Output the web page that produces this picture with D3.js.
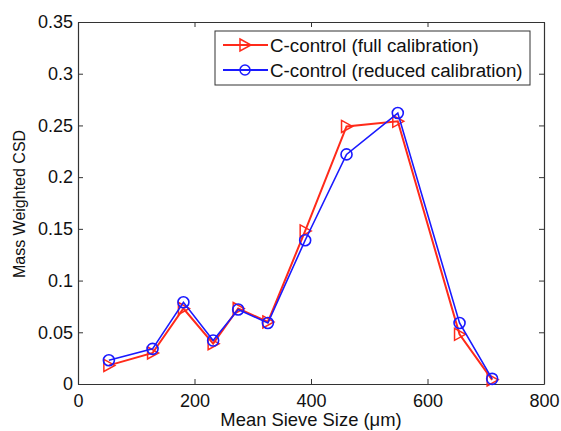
<!DOCTYPE html>
<html>
<head>
<meta charset="utf-8">
<script src="https://cdn.jsdelivr.net/npm/d3@7"></script>
<style>
  body { margin: 0; background: #fff; }
  svg { font-family: "Liberation Sans", Arial, sans-serif; }
</style>
</head>
<body>
<div id="vis"></div>
<script>
// Data
const SIEVE_SIZE = [53, 128, 181, 232, 275, 326, 390, 461, 549, 655, 711];
const FULL_CAL = [0.018, 0.030, 0.073, 0.039, 0.073, 0.060, 0.148, 0.249, 0.254, 0.048, 0.004];
const REDUCED_CAL = [0.023, 0.034, 0.079, 0.042, 0.072, 0.059, 0.139, 0.222, 0.262, 0.059, 0.005];
const X_TICKS = [0, 200, 400, 600, 800];
const Y_TICKS = [0, 0.05, 0.1, 0.15, 0.2, 0.25, 0.3, 0.35];
const Y_TICK_LABELS = ["0", "0.05", "0.1", "0.15", "0.2", "0.25", "0.3", "0.35"];
const SERIES_NAMES = ["C-control (full calibration)", "C-control (reduced calibration)"];

// Frame and margins
const FRAME_WIDTH = 561;
const FRAME_HEIGHT = 431;
const MARGINS = {left: 78, right: 17, top: 22, bottom: 47};
const VIS_WIDTH = FRAME_WIDTH - MARGINS.left - MARGINS.right;
const VIS_HEIGHT = FRAME_HEIGHT - MARGINS.top - MARGINS.bottom;

const FRAME = d3.select("#vis")
  .append("svg")
    .attr("width", FRAME_WIDTH)
    .attr("height", FRAME_HEIGHT);

const X_SCALE = d3.scaleLinear().domain([0, 800]).range([0, VIS_WIDTH]);
const Y_SCALE = d3.scaleLinear().domain([0, 0.35]).range([VIS_HEIGHT, 0]);

const G = FRAME.append("g")
  .attr("transform", "translate(" + MARGINS.left + "," + MARGINS.top + ")");

// Axes (ticks pointing inward, matlab style), plus mirrored top/right
function styleAxis(sel) {
  sel.selectAll("path").attr("stroke", "#333").attr("stroke-width", 1.2);
  sel.selectAll("line").attr("stroke", "#333");
  sel.selectAll("text").attr("fill", "#111").style("font-size", "18px");
}

G.append("g")
  .attr("transform", "translate(0," + VIS_HEIGHT + ")")
  .call(d3.axisBottom(X_SCALE).tickValues(X_TICKS).tickSize(-5).tickPadding(10).tickSizeOuter(0))
  .call(styleAxis);

G.append("g")
  .call(d3.axisLeft(Y_SCALE).tickValues(Y_TICKS)
    .tickFormat((d, i) => Y_TICK_LABELS[i]).tickSize(-5).tickPadding(5).tickSizeOuter(0))
  .call(styleAxis);

G.append("g")
  .call(d3.axisTop(X_SCALE).tickValues(X_TICKS).tickSize(-5).tickFormat("").tickSizeOuter(0))
  .call(styleAxis);

G.append("g")
  .attr("transform", "translate(" + VIS_WIDTH + ",0)")
  .call(d3.axisRight(Y_SCALE).tickValues(Y_TICKS).tickSize(-5).tickFormat("").tickSizeOuter(0))
  .call(styleAxis);

// Axis labels
FRAME.append("text")
  .attr("x", MARGINS.left + VIS_WIDTH / 2)
  .attr("y", 426)
  .attr("text-anchor", "middle")
  .style("font-size", "18.4px")
  .attr("fill", "#111")
  .text("Mean Sieve Size (\u03BCm)");

FRAME.append("text")
  .attr("transform", "translate(25,204) rotate(-90)")
  .attr("text-anchor", "middle")
  .style("font-size", "16px")
  .attr("fill", "#111")
  .text("Mass Weighted CSD");

// Lines
const line = d3.line()
  .x((d) => X_SCALE(d[0]))
  .y((d) => Y_SCALE(d[1]));

const redData = SIEVE_SIZE.map((x, i) => [x, FULL_CAL[i]]);
const blueData = SIEVE_SIZE.map((x, i) => [x, REDUCED_CAL[i]]);

G.append("path")
  .datum(redData)
  .attr("d", line)
  .attr("fill", "none")
  .attr("stroke", "#ff2a1a")
  .attr("stroke-width", 2);

const TRI = "M-5,-6L6,0L-5,6Z";

G.selectAll(".tri")
  .data(redData)
  .enter()
  .append("path")
    .attr("class", "tri")
    .attr("d", TRI)
    .attr("transform", (d) => "translate(" + X_SCALE(d[0]) + "," + Y_SCALE(d[1]) + ")")
    .attr("fill", "none")
    .attr("stroke", "#ff2a1a")
    .attr("stroke-width", 1.5);

G.append("path")
  .datum(blueData)
  .attr("d", line)
  .attr("fill", "none")
  .attr("stroke", "#1a1aff")
  .attr("stroke-width", 1.6);

G.selectAll(".circ")
  .data(blueData)
  .enter()
  .append("circle")
    .attr("class", "circ")
    .attr("cx", (d) => X_SCALE(d[0]))
    .attr("cy", (d) => Y_SCALE(d[1]))
    .attr("r", 5.5)
    .attr("fill", "none")
    .attr("stroke", "#1a1aff")
    .attr("stroke-width", 1.6);

// Legend
const LEG = FRAME.append("g").attr("transform", "translate(215,31)");
LEG.append("rect")
  .attr("width", 315)
  .attr("height", 54)
  .attr("fill", "#fff")
  .attr("stroke", "#333")
  .attr("stroke-width", 1);

const legColors = ["#ff2a1a", "#1a1aff"];
SERIES_NAMES.forEach((name, i) => {
  const y = 14 + i * 25;
  LEG.append("line")
    .attr("x1", 8).attr("x2", 53).attr("y1", y).attr("y2", y)
    .attr("stroke", legColors[i]).attr("stroke-width", 2);
  if (i === 0) {
    LEG.append("path").attr("d", TRI)
      .attr("transform", "translate(30," + y + ")")
      .attr("fill", "none").attr("stroke", legColors[i]).attr("stroke-width", 1.5);
  } else {
    LEG.append("circle").attr("cx", 30).attr("cy", y).attr("r", 5)
      .attr("fill", "none").attr("stroke", legColors[i]).attr("stroke-width", 1.5);
  }
  LEG.append("text")
    .attr("x", 55).attr("y", y + 6.7)
    .style("font-size", "18.8px")
    .attr("fill", "#111")
    .text(name);
});
</script>
</body>
</html>
